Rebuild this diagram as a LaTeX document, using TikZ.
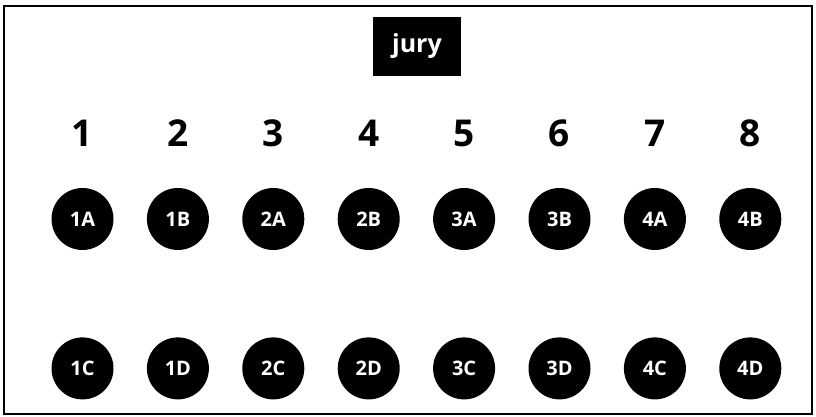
\documentclass[tikz,border=0pt]{standalone}
\usepackage{fontspec}
\setsansfont{Open Sans}
\usepackage{tikz}
\usetikzlibrary{positioning}

\begin{document}
\begin{tikzpicture}[
    x=1pt, y=1pt,
    seat/.style={circle, fill=black, text=white, minimum size=62pt, inner sep=0pt, font=\sffamily\bfseries\fontsize{20}{20}\selectfont},
    num/.style={inner sep=0pt, font=\sffamily\bfseries\fontsize{37}{37}\selectfont},
    jurybox/.style={rectangle, fill=black, text=white, minimum width=88pt, minimum height=59pt, font=\sffamily\bfseries\fontsize{25}{25}\selectfont}
]
\useasboundingbox (0,0) rectangle (816,417);
\draw[line width=2pt] (4,3) rectangle (812,411);

\node[jurybox] (jury) at (417,370.5) {jury};

% top row of seats
\node[seat] (s1A) at (82.5,198) {1A};
\node[seat, right=33pt of s1A] (s1B) {1B};
\node[seat, right=33pt of s1B] (s2A) {2A};
\node[seat, right=33pt of s2A] (s2B) {2B};
\node[seat, right=33pt of s2B] (s3A) {3A};
\node[seat, right=33pt of s3A] (s3B) {3B};
\node[seat, right=33pt of s3B] (s4A) {4A};
\node[seat, right=33pt of s4A] (s4B) {4B};

% bottom row of seats
\node[seat, below=87pt of s1A] (s1C) {1C};
\node[seat, below=87pt of s1B] (s1D) {1D};
\node[seat, below=87pt of s2A] (s2C) {2C};
\node[seat, below=87pt of s2B] (s2D) {2D};
\node[seat, below=87pt of s3A] (s3C) {3C};
\node[seat, below=87pt of s3B] (s3D) {3D};
\node[seat, below=87pt of s4A] (s4C) {4C};
\node[seat, below=87pt of s4B] (s4D) {4D};

% column numbers
\node[num, above=41pt of s1A] (n1) {1};
\node[num, above=41pt of s1B] (n2) {2};
\node[num, above=41pt of s2A] (n3) {3};
\node[num, above=41pt of s2B] (n4) {4};
\node[num, above=41pt of s3A] (n5) {5};
\node[num, above=41pt of s3B] (n6) {6};
\node[num, above=41pt of s4A] (n7) {7};
\node[num, above=41pt of s4B] (n8) {8};

\end{tikzpicture}
\end{document}
